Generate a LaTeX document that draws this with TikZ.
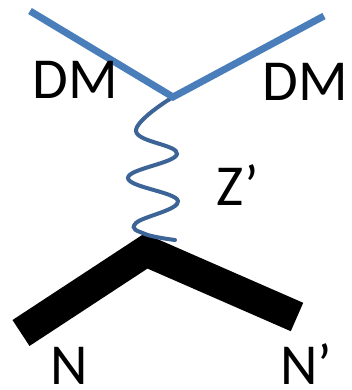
\documentclass[tikz,border=0pt]{standalone}
\usepackage{fontspec}
\setmainfont{Carlito}
\usepackage{tikz}
\usetikzlibrary{calc}
\definecolor{dmblue}{HTML}{4A7EBB}
\definecolor{zblue}{HTML}{3C6496}

\begin{document}
\begin{tikzpicture}[x=1pt,y=-1pt,
    lbl/.style={inner sep=0pt,font=\fontsize{58}{60}\selectfont},
    dmline/.style={line width=7pt,dmblue,miter limit=20},
    nline/.style={line width=31pt,black,miter limit=20},
    zwave/.style={line width=4pt,zblue,line cap=round}]
    \useasboundingbox (0,0) rectangle (351,390);
    % vertices and ends
    \coordinate (dmin) at (30,11);
    \coordinate (dmout) at (324,16);
    \coordinate (vtop) at (173,97);
    \coordinate (vbot) at (146,251);
    \coordinate (nin) at (21,333);
    \coordinate (nout) at (297,317);
    \coordinate (zend) at (175,240);
    \draw[nline] (nin) -- (vbot) -- (nout);
    \draw[zwave] plot[smooth,tension=0.7] coordinates {(vtop) (136,131) (177,154) (128,178) (178,201) (136,223) (145,234) (zend)};
    \draw[dmline] (dmin) -- (vtop) -- (dmout);
    \node[lbl,anchor=base] (dm1) at (75,99) {DM};
    \node[lbl,anchor=base] (dm2) at (305,101) {DM};
    \node[lbl,anchor=base west] (zp) at (216,205) {Z’};
    \node[lbl,anchor=base] (n1) at (69,384) {N};
    \node[lbl,anchor=base west] (n2) at (280,384) {N’};
\end{tikzpicture}
\end{document}
